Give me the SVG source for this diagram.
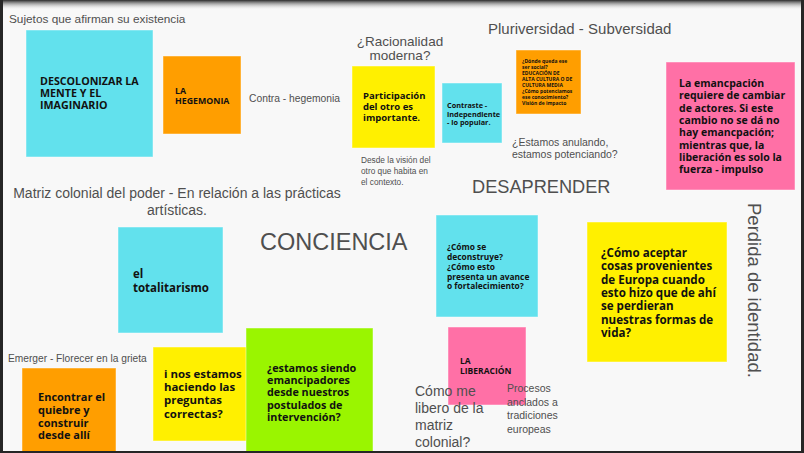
<svg xmlns="http://www.w3.org/2000/svg" width="804" height="453" viewBox="0 0 804 453">
<defs>
<linearGradient id="topShade" x1="0" y1="0" x2="0" y2="1">
<stop offset="0" stop-color="#2a2a2a"/>
<stop offset="1" stop-color="#f8f8f8" stop-opacity="0"/>
</linearGradient>
</defs>
<style>
.note{stroke:#ffffff;stroke-opacity:0.45;stroke-width:1}
.b{font-family:"Open Sans","Noto Sans",sans-serif;font-weight:700;fill:#111}
.l{font-family:"Liberation Sans",Arial,sans-serif;fill:#4f4f4f}
.cy{fill:#62e1ed}.or{fill:#ff9e00}.ye{fill:#fff000}.gr{fill:#9af500}.pk{fill:#ff70a6}
</style>
<rect x="0" y="0" width="804" height="453" fill="#f8f8f8"/>

<g id="labels">
<text class="l" x="9" y="23" font-size="11.8">Sujetos que afirman su existencia</text>
<text class="l" x="249" y="102" font-size="10.3">Contra - hegemonia</text>
<text class="l" x="400" y="46" font-size="13.5" text-anchor="middle">¿Racionalidad</text>
<text class="l" x="400" y="60" font-size="13.5" text-anchor="middle">moderna?</text>
<text class="l" x="488" y="34" font-size="15">Pluriversidad - Subversidad</text>
<text class="l" x="361" y="163" font-size="8.3">Desde la visión del</text>
<text class="l" x="361" y="174" font-size="8.3">otro que habita en</text>
<text class="l" x="361" y="185" font-size="8.3">el contexto.</text>
<text class="l" x="512" y="146" font-size="10.5">¿Estamos anulando,</text>
<text class="l" x="512" y="158" font-size="10.5">estamos potenciando?</text>
<text class="l" x="472" y="193" font-size="18.2" fill="#444">DESAPRENDER</text>
<text class="l" x="177" y="198" font-size="14" text-anchor="middle">Matriz colonial del poder - En relación a las prácticas</text>
<text class="l" x="177" y="215" font-size="14" text-anchor="middle">artísticas.</text>
<text class="l" x="260" y="250" font-size="23.5" fill="#3f4447">CONCIENCIA</text>
<text class="l" x="748" y="203" font-size="18.5" transform="rotate(90 748 203)">Perdida de identidad.</text>
<text class="l" x="8" y="362" font-size="10.2">Emerger - Florecer en la grieta</text>
</g>

<g id="n-descolonizar">
<rect class="note cy" x="26" y="30" width="127" height="127"/>
<text class="b" font-size="10.7"><tspan x="40" y="85">DESCOLONIZAR LA</tspan><tspan x="40" y="97">MENTE Y EL</tspan><tspan x="40" y="109">IMAGINARIO</tspan></text>
</g>
<g id="n-hegemonia">
<rect class="note or" x="163" y="56" width="78" height="78"/>
<text class="b" font-size="8.8"><tspan x="175" y="94">LA</tspan><tspan x="175" y="104">HEGEMONIA</tspan></text>
</g>
<g id="n-participacion">
<rect class="note ye" x="352" y="66" width="83" height="82"/>
<text class="b" font-size="9.5"><tspan x="363" y="99">Participación</tspan><tspan x="363" y="110">del otro es</tspan><tspan x="363" y="121">importante.</tspan></text>
</g>
<g id="n-contraste">
<rect class="note cy" x="442" y="83" width="60" height="60"/>
<text class="b" font-size="7.3"><tspan x="447" y="108">Contraste -</tspan><tspan x="447" y="116.5">independiente</tspan><tspan x="447" y="125">- lo popular.</tspan></text>
</g>
<g id="n-donde">
<rect class="note or" x="516" y="50" width="65" height="64"/>
<text class="b" font-size="5"><tspan x="522" y="63">¿Dónde queda ese</tspan><tspan x="522" y="69">ser social?</tspan><tspan x="522" y="75">EDUCACIÓN DE</tspan><tspan x="522" y="81">ALTA CULTURA O DE</tspan><tspan x="522" y="87">CULTURA MEDIA</tspan><tspan x="522" y="93">¿Cómo potenciamos</tspan><tspan x="522" y="99">ese conocimiento?</tspan><tspan x="522" y="105">Visión de impacto</tspan></text>
</g>
<g id="n-emancipacion">
<rect class="note pk" x="666" y="62" width="129" height="128"/>
<text class="b" font-size="10.5"><tspan x="679" y="87">La emancpación</tspan><tspan x="679" y="99.3">requiere de cambiar</tspan><tspan x="679" y="111.6">de actores. Si este</tspan><tspan x="679" y="123.9">cambio no se dá no</tspan><tspan x="679" y="136.2">hay emancpación;</tspan><tspan x="679" y="148.5">mientras que, la</tspan><tspan x="679" y="160.8">liberación es solo la</tspan><tspan x="679" y="173.1">fuerza - impulso</tspan></text>
</g>
<g id="n-totalitarismo">
<rect class="note cy" x="118" y="227" width="105" height="106"/>
<text class="b" font-size="11.5"><tspan x="133" y="278">el</tspan><tspan x="133" y="292">totalitarismo</tspan></text>
</g>
<g id="n-deconstruye">
<rect class="note cy" x="436" y="215" width="102" height="102"/>
<text class="b" font-size="8.4"><tspan x="447" y="250">¿Cómo se</tspan><tspan x="447" y="260">deconstruye?</tspan><tspan x="447" y="269.5">¿Cómo esto</tspan><tspan x="447" y="279.5">presenta un avance</tspan><tspan x="447" y="289">o fortalecimiento?</tspan></text>
</g>
<g id="n-europa">
<rect class="note ye" x="587" y="222" width="140" height="140"/>
<text class="b" font-size="11.6"><tspan x="601" y="257">¿Cómo aceptar</tspan><tspan x="601" y="270.3">cosas provenientes</tspan><tspan x="601" y="283.6">de Europa cuando</tspan><tspan x="601" y="296.9">esto hizo que de ahí</tspan><tspan x="601" y="310.2">se perdieran</tspan><tspan x="601" y="323.5">nuestras formas de</tspan><tspan x="601" y="336.8">vida?</tspan></text>
</g>
<g id="n-liberacion">
<rect class="note pk" x="448" y="327" width="78" height="78"/>
<text class="b" font-size="8.5"><tspan x="460" y="364">LA</tspan><tspan x="460" y="374">LIBERACIÓN</tspan></text>
</g>
<g id="labels-bottom">
<text class="l" font-size="14"><tspan x="415" y="396">Cómo me</tspan><tspan x="415" y="413">libero de la</tspan><tspan x="415" y="430">matriz</tspan><tspan x="415" y="447">colonial?</tspan></text>
<text class="l" font-size="10.5"><tspan x="507" y="392">Procesos</tspan><tspan x="507" y="405.5">anclados a</tspan><tspan x="507" y="419">tradiciones</tspan><tspan x="507" y="432.5">europeas</tspan></text>
</g>
<g id="n-quiebre">
<rect class="note or" x="22" y="368" width="94" height="90"/>
<text class="b" font-size="11"><tspan x="38" y="401">Encontrar el</tspan><tspan x="38" y="413.8">quiebre y</tspan><tspan x="38" y="426.6">construir</tspan><tspan x="38" y="439.4">desde allí</tspan></text>
</g>
<g id="n-preguntas">
<rect class="note ye" x="153" y="347" width="94" height="94"/>
<text class="b" font-size="11.4"><tspan x="164" y="378">i nos estamos</tspan><tspan x="164" y="391">haciendo las</tspan><tspan x="164" y="404.3">preguntas</tspan><tspan x="164" y="417.5">correctas?</tspan></text>
</g>
<g id="n-emancipadores">
<rect class="note gr" x="246" y="328" width="127" height="130"/>
<text class="b" font-size="10.8"><tspan x="267" y="372">¿estamos siendo</tspan><tspan x="267" y="384.2">emancipadores</tspan><tspan x="267" y="396.4">desde nuestros</tspan><tspan x="267" y="408.6">postulados de</tspan><tspan x="267" y="420.8">intervención?</tspan></text>
</g>
<g id="connectors"/>
<g id="frame">
<rect x="0" y="0" width="804" height="10" fill="url(#topShade)"/>
<rect x="0" y="0" width="3" height="453" fill="#262626"/>
<rect x="801" y="0" width="3" height="453" fill="#262626"/>
<rect x="0" y="451" width="804" height="2" fill="#262626"/>
</g>
</svg>
